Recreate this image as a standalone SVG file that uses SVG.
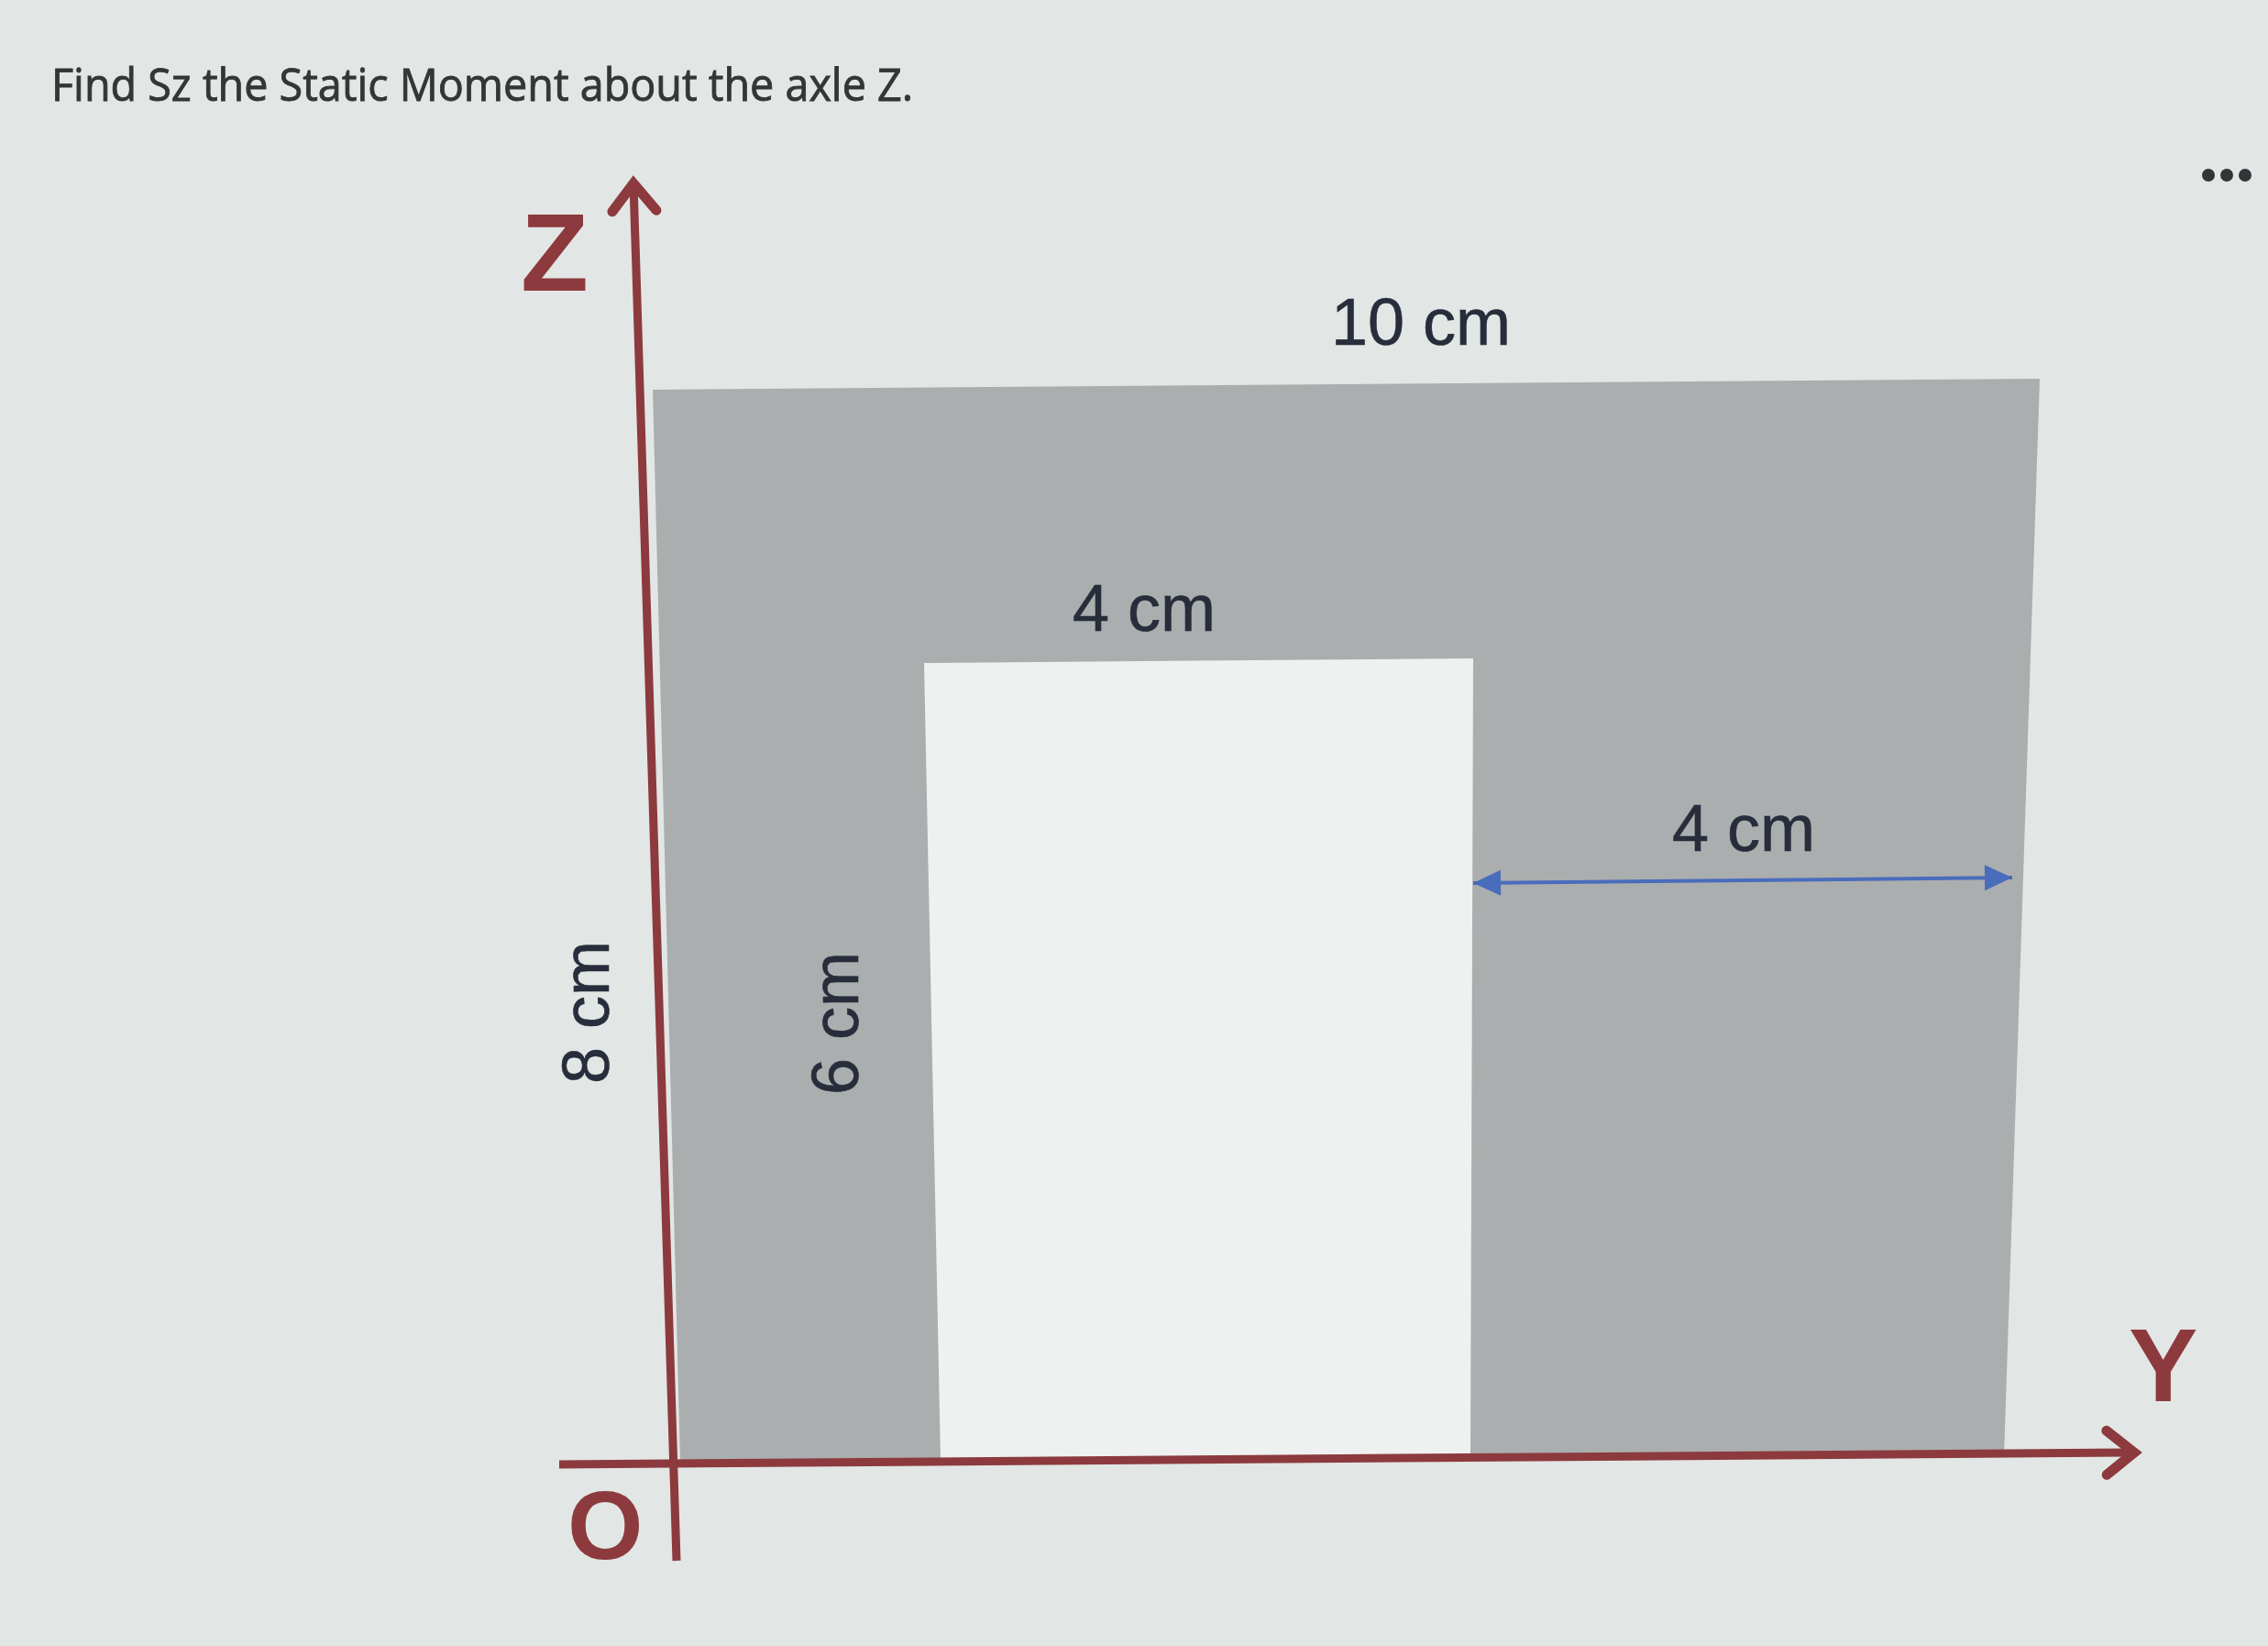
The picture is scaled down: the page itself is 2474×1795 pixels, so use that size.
<svg xmlns="http://www.w3.org/2000/svg" width="2474" height="1795" viewBox="0 0 2474 1795">
  <style>
    .title { font-family: "Open Sans", "Liberation Sans", sans-serif; font-size: 50px; fill: #343636; stroke: #343636; stroke-width: 0.9; }
    .dim { font-family: "Liberation Sans", Arial, sans-serif; font-size: 72px; fill: #272d3b; stroke: #272d3b; stroke-width: 0.6; }
    .axlabel { font-family: "Liberation Sans", Arial, sans-serif; font-weight: bold; fill: #8c3a3e; }
    .axis { stroke: #8c3a3e; stroke-width: 9; fill: none; }
    .dimline { stroke: #4a6cbc; stroke-width: 4; fill: none; }
  </style>
  <defs>
    <marker id="chev" markerUnits="userSpaceOnUse" viewBox="-40 -40 60 80" refX="0" refY="0" markerWidth="60" markerHeight="80" orient="auto">
      <path d="M -30,-24 L 0,0 L -30,24" fill="none" stroke="#8c3a3e" stroke-width="11" stroke-linecap="round" stroke-linejoin="miter"/>
    </marker>
    <marker id="tri" markerUnits="userSpaceOnUse" viewBox="-32 -16 34 32" refX="0" refY="0" markerWidth="34" markerHeight="32" orient="auto-start-reverse">
      <path d="M -30,-14 L 0,0 L -30,14 Z" fill="#4a6cbc"/>
    </marker>
  </defs>

  <rect x="0" y="0" width="2474" height="1795" fill="#e2e6e4"/>

  <g id="title">
    <text class="title" x="56" y="110" textLength="940" lengthAdjust="spacingAndGlyphs">Find Sz the Static Moment about the axle Z.</text>
  </g>

  <g id="menu-dots" fill="#333638">
    <circle cx="2409" cy="191" r="7"/>
    <circle cx="2429" cy="191" r="7"/>
    <circle cx="2449" cy="191" r="7"/>
  </g>

  <g id="section">
    <path d="M 712,425 L 2225,413 L 2186,1588 L 742,1594 Z" fill="#abaeae"/>
    <path d="M 1008,723 L 1607,718 L 1604,1589 L 1026,1592 Z" fill="#eef1ef"/>
  </g>

  <g id="connectors">
    <line id="z-axis" class="axis" x1="738" y1="1702" x2="691" y2="200" marker-end="url(#chev)"/>
    <line id="y-axis" class="axis" x1="610" y1="1597" x2="2328" y2="1584" marker-end="url(#chev)"/>
    <line id="dim-4cm-right" class="dimline" x1="1607" y1="963" x2="2195" y2="957" marker-start="url(#tri)" marker-end="url(#tri)"/>
  </g>

  <g id="label-z"><text class="axlabel" x="568" y="317" font-size="121">Z</text></g>
  <g id="label-o"><text class="axlabel" x="619" y="1700" font-size="106">O</text></g>
  <g id="label-y"><text class="axlabel" x="2322" y="1528" font-size="113">Y</text></g>

  <g id="label-10cm"><text class="dim" x="1550" y="376" text-anchor="middle">10 cm</text></g>
  <g id="label-4cm-top"><text class="dim" x="1248" y="688" text-anchor="middle">4 cm</text></g>
  <g id="label-4cm-right"><text class="dim" x="1902" y="928" text-anchor="middle">4 cm</text></g>
  <g id="label-8cm"><text class="dim" transform="translate(664,1104) rotate(-90)" x="0" y="0" text-anchor="middle">8 cm</text></g>
  <g id="label-6cm"><text class="dim" transform="translate(936,1116) rotate(-90)" x="0" y="0" text-anchor="middle">6 cm</text></g>
</svg>
